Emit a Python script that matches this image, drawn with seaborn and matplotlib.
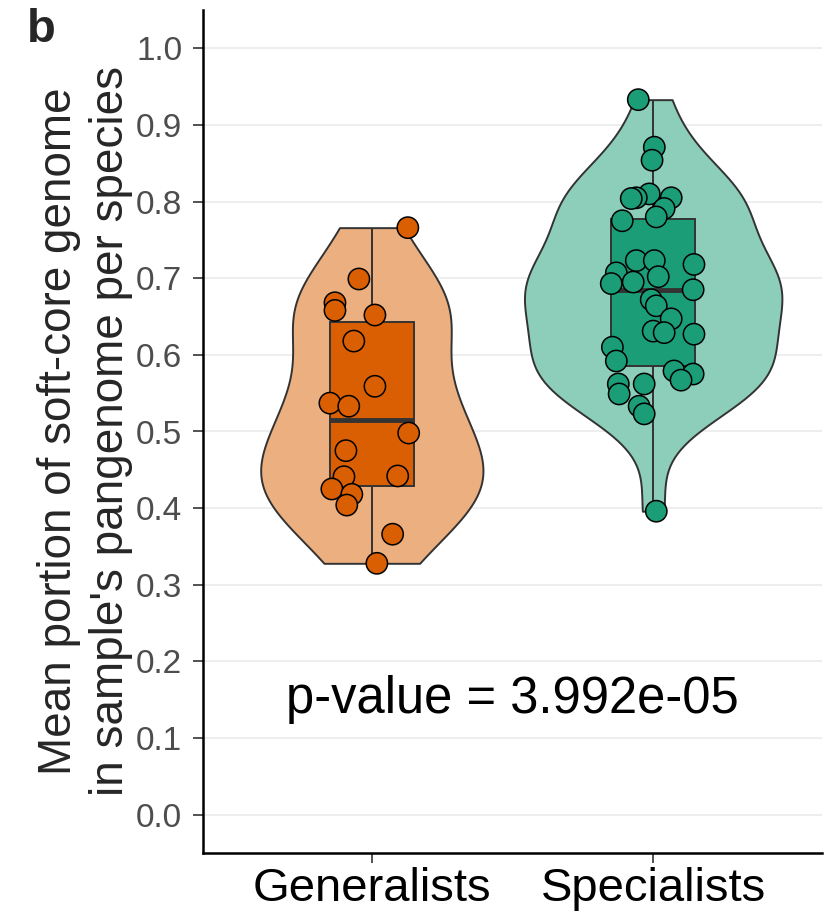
import numpy as np
import pandas as pd
import matplotlib
matplotlib.use("Agg")
import matplotlib.pyplot as plt
import seaborn as sns

# --- data ---
groups = ["Generalists", "Specialists"]

generalists = [0.766, 0.699, 0.668, 0.658, 0.652, 0.618, 0.559, 0.537, 0.533,
               0.498, 0.475, 0.442, 0.441, 0.425, 0.418, 0.404, 0.366, 0.328]
specialists = [0.933, 0.871, 0.854, 0.810, 0.805, 0.805, 0.804, 0.791, 0.780,
               0.775, 0.723, 0.723, 0.718, 0.707, 0.702, 0.695, 0.693, 0.685,
               0.672, 0.664, 0.647, 0.631, 0.629, 0.627, 0.610, 0.592, 0.579,
               0.575, 0.567, 0.562, 0.562, 0.549, 0.533, 0.523, 0.396]

# horizontal jitter of each point (category units), as seen in the figure
gen_jitter = [0.128, -0.046, -0.131, -0.131, 0.011, -0.064, 0.011, -0.149, -0.082,
              0.131, -0.092, 0.092, -0.099, -0.142, -0.071, -0.089, 0.074, 0.018]
spe_jitter = [-0.053, 0.004, -0.004, -0.014, -0.060, 0.064, -0.078, 0.039, 0.011,
              -0.110, -0.060, 0.004, 0.145, -0.131, 0.018, -0.071, -0.149, 0.142,
              -0.007, 0.011, 0.064, 0.0, 0.039, 0.145, -0.145, -0.131, 0.074,
              0.142, 0.099, -0.124, -0.032, -0.121, -0.050, -0.032, 0.011]

yticks = [0.0, 0.1, 0.2, 0.3, 0.4, 0.5, 0.6, 0.7, 0.8, 0.9, 1.0]
p_text = "p-value = 3.992e-05"
ylabel = "Mean portion of soft-core genome\nin sample's pangenome per species"

violin_colors = ["#ECAF80", "#8DCEBB"]
violin_widths = [0.79, 0.915]   # max width of each violin (category units)
box_colors = ["#D95F02", "#1B9E77"]
line_col = "#333333"

# --- style ---
sns.set_style("white")
plt.rcParams["font.family"] = ["Liberation Sans", "DejaVu Sans"]

df = pd.DataFrame({
    "group": [groups[0]] * len(generalists) + [groups[1]] * len(specialists),
    "value": generalists + specialists,
    "jitter": gen_jitter + spe_jitter,
})
df["xpos"] = df["group"].map({g: i for i, g in enumerate(groups)}) + df["jitter"]

fig = plt.figure(figsize=(8.26, 9.15), dpi=100)
ax = fig.add_axes([203 / 826, 1 - 853 / 915, (822 - 203) / 826, (853 - 10) / 915])

# violins, one per group so each gets its own width
for g, col, w in zip(groups, violin_colors, violin_widths):
    sns.violinplot(data=df[df["group"] == g], x="group", y="value", order=groups,
                   color=col, saturation=1, cut=0, inner=None, bw_adjust=0.85,
                   width=w, density_norm="width", linewidth=1.4,
                   linecolor=line_col, ax=ax)

sns.boxplot(data=df, x="group", y="value", hue="group", order=groups,
            hue_order=groups, palette=box_colors, saturation=1, width=0.3,
            linewidth=1.4, linecolor=line_col, showcaps=False, fliersize=0,
            whis=1.5, medianprops={"linewidth": 3.5, "color": line_col},
            legend=False, ax=ax)

sns.scatterplot(data=df, x="xpos", y="value", hue="group", hue_order=groups,
                palette=box_colors, s=235, edgecolor="black", linewidth=1.1,
                legend=False, zorder=4, ax=ax)

ax.text(0.5, 0.15, p_text, ha="center", va="center", fontsize=36.5, color="black")

# axes cosmetics
ax.set_xlim(-0.6, 1.6)
ax.set_ylim(-0.05, 1.05)
ax.set_xticks([0, 1])
ax.set_xticklabels(groups)
ax.set_yticks(yticks)
ax.set_yticklabels([f"{t:.1f}" for t in yticks])
ax.yaxis.grid(True, color="#EBEBEB", linewidth=1.2)
ax.xaxis.grid(False)
ax.set_axisbelow(True)
for s in ["top", "right"]:
    ax.spines[s].set_visible(False)
for s in ["left", "bottom"]:
    ax.spines[s].set_color("black")
    ax.spines[s].set_linewidth(1.8)
ax.tick_params(axis="y", labelsize=24, labelcolor="#4D4D4D", length=7,
               width=1.2, color="#333333", left=True, pad=8)
ax.tick_params(axis="x", labelsize=34, labelcolor="black", length=7,
               width=1.2, color="#333333", bottom=True, pad=3)
ax.set_xlabel("")
ax.set_ylabel(ylabel, fontsize=33, labelpad=2, linespacing=1.25)

fig.text(27 / 826, 1 - 8 / 915, "b", fontsize=34, fontweight="bold",
         ha="left", va="top")

fig.savefig("out.png", dpi=100)
